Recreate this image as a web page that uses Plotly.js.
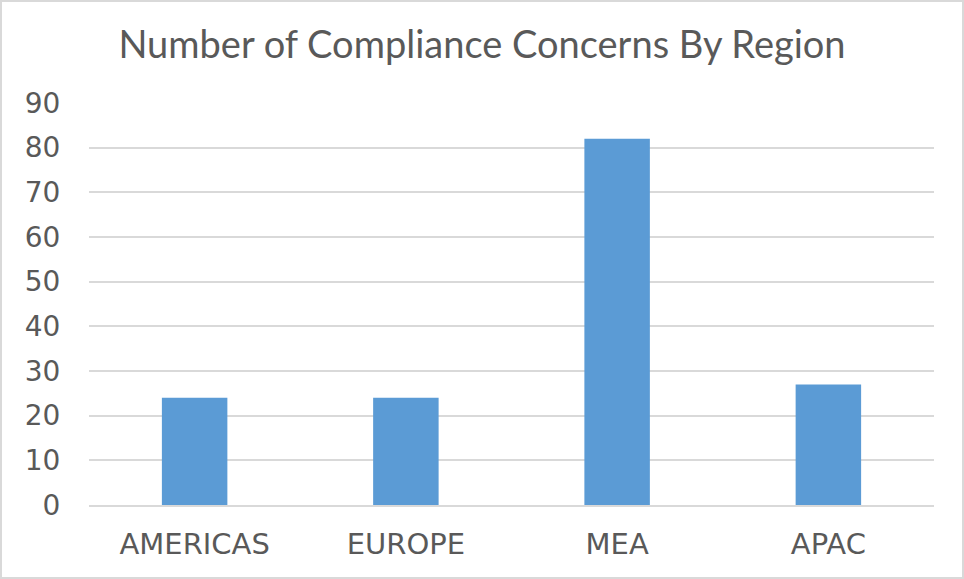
<!DOCTYPE html>
<html>
<head>
<meta charset="utf-8">
<script src="https://cdn.plot.ly/plotly-3.0.1.min.js"></script>
<style>
html,body{margin:0;padding:0;background:#fff;}
#chart{width:964px;height:579px;box-sizing:border-box;border:2px solid #d9d9d9;}
</style>
</head>
<body>
<div id="chart"></div>
<script>
const categories = ["AMERICAS", "EUROPE", "MEA", "APAC"];
const concerns = [24, 24, 82, 27];
const yTicks = [0, 10, 20, 30, 40, 50, 60, 70, 80, 90];

const trace = {
  type: "bar",
  x: categories,
  y: concerns,
  width: 0.31,
  marker: {color: "#5b9bd5", line: {color: "#5b9bd5", width: 0}},
  hoverinfo: "x+y"
};

const layout = {
  width: 960,
  height: 575,
  margin: {l: 87, r: 28, t: 101, b: 72},
  paper_bgcolor: "#ffffff",
  plot_bgcolor: "#ffffff",
  showlegend: false,
  title: {
    text: "Number of Compliance Concerns By Region",
    font: {family: "Lato, sans-serif", size: 38, color: "#595959"},
    x: 0.5, xanchor: "center",
    yref: "container", y: 0.925, yanchor: "middle"
  },
  xaxis: {
    type: "category",
    tickfont: {family: "DejaVu Sans, sans-serif", size: 29, color: "#595959"},
    showgrid: false,
    showline: true, linecolor: "#d9d9d9", linewidth: 2,
    ticks: "outside", ticklen: 12, tickcolor: "rgba(0,0,0,0)"
  },
  yaxis: {
    range: [0, 90],
    tickvals: yTicks,
    ticktext: yTicks.map(String),
    tickfont: {family: "DejaVu Sans, sans-serif", size: 28, color: "#595959"},
    showgrid: true, gridcolor: "#d9d9d9", gridwidth: 2,
    zeroline: false, showline: false,
    ticks: "outside", ticklen: 22, tickcolor: "rgba(0,0,0,0)"
  },
  bargap: 0.69
};

Plotly.newPlot("chart", [trace], layout, {displayModeBar: false, staticPlot: true});
</script>
</body>
</html>
